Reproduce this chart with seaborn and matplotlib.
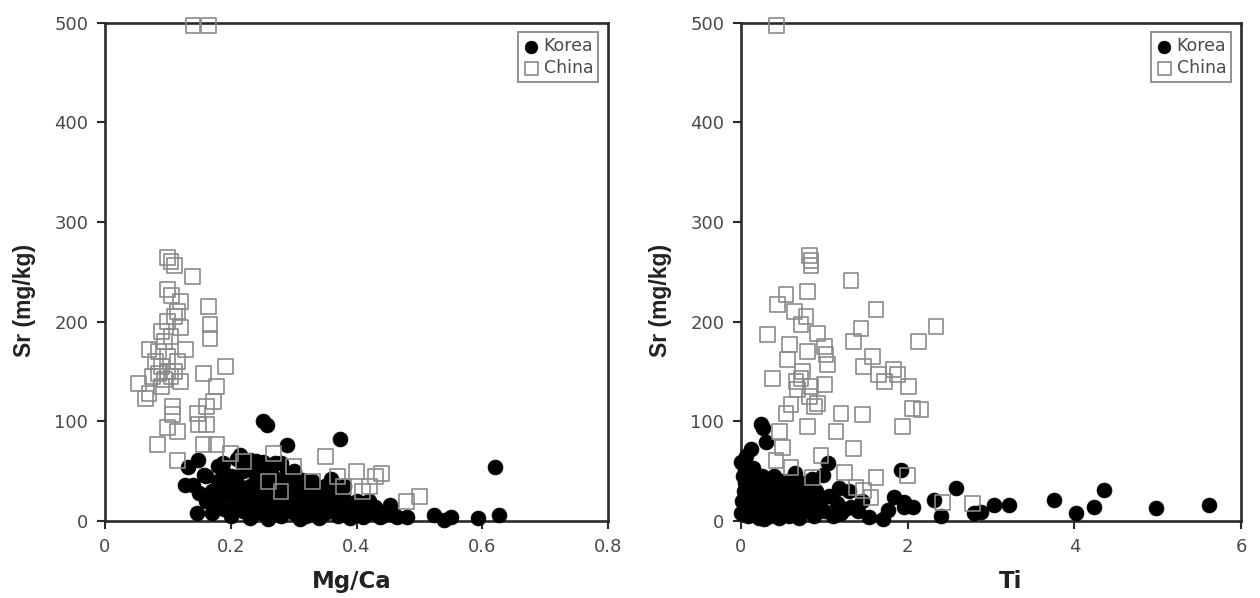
import matplotlib
matplotlib.use("Agg")
import matplotlib.pyplot as plt
import seaborn as sns
import pandas as pd

# ---------------- data ----------------
# Left panel: Mg/Ca vs Sr
korea_mgca_sr = [
    (0.252, 100), (0.258, 96), (0.374, 82), (0.290, 76), (0.620, 54), (0.626, 6),
    (0.594, 3), (0.550, 4), (0.539, 1), (0.523, 6), (0.481, 4), (0.465, 4),
    (0.454, 16), (0.438, 4), (0.414, 18), (0.132, 54), (0.148, 61), (0.215, 66),
    (0.188, 58), (0.231, 61), (0.252, 59), (0.127, 36), (0.140, 36), (0.157, 46),
    (0.146, 8), (0.172, 16), (0.204, 41), (0.290, 48), (0.310, 41), (0.314, 41),
    (0.266, 46), (0.17, 30), (0.18, 22), (0.18, 40), (0.19, 12), (0.19, 32),
    (0.20, 25), (0.20, 5), (0.21, 18), (0.21, 38), (0.22, 10), (0.22, 28),
    (0.22, 50), (0.23, 20), (0.23, 35), (0.23, 3), (0.24, 15), (0.24, 28),
    (0.24, 44), (0.25, 8), (0.25, 22), (0.25, 35), (0.25, 55), (0.26, 14),
    (0.26, 30), (0.26, 2), (0.27, 20), (0.27, 40), (0.27, 10), (0.28, 25),
    (0.28, 5), (0.28, 35), (0.28, 58), (0.29, 15), (0.29, 28), (0.30, 8),
    (0.30, 20), (0.30, 38), (0.30, 50), (0.31, 12), (0.31, 26), (0.32, 5),
    (0.32, 18), (0.32, 32), (0.33, 10), (0.33, 24), (0.33, 40), (0.34, 15),
    (0.34, 3), (0.34, 28), (0.35, 8), (0.35, 20), (0.35, 35), (0.36, 12),
    (0.36, 25), (0.37, 5), (0.37, 18), (0.37, 30), (0.38, 10), (0.38, 22),
    (0.39, 15), (0.39, 3), (0.40, 8), (0.40, 20), (0.41, 12), (0.41, 4),
    (0.42, 8), (0.43, 14), (0.44, 5), (0.45, 10), (0.46, 6), (0.20, 45),
    (0.18, 55), (0.16, 20), (0.17, 8), (0.24, 60), (0.26, 48), (0.21, 62),
    (0.27, 58), (0.23, 52), (0.19, 48), (0.30, 45), (0.33, 33), (0.36, 42),
    (0.15, 28), (0.16, 45), (0.42, 20), (0.38, 35), (0.29, 40), (0.31, 2),
]
china_mgca_sr = [
    (0.140, 497), (0.165, 497), (0.099, 264), (0.105, 260), (0.110, 256),
    (0.139, 245), (0.100, 232), (0.106, 226), (0.120, 220), (0.164, 215),
    (0.115, 210), (0.110, 205), (0.167, 197), (0.100, 200), (0.120, 194),
    (0.167, 183), (0.090, 190), (0.095, 180), (0.128, 172), (0.085, 170),
    (0.070, 172), (0.080, 160), (0.100, 165), (0.090, 155), (0.191, 155),
    (0.156, 148), (0.110, 150), (0.053, 138), (0.075, 145), (0.105, 145),
    (0.120, 140), (0.090, 135), (0.178, 135), (0.064, 123), (0.070, 128),
    (0.172, 120), (0.107, 115), (0.147, 108), (0.162, 115), (0.108, 107),
    (0.099, 94), (0.115, 90), (0.083, 77), (0.148, 97), (0.162, 97),
    (0.116, 61), (0.156, 77), (0.178, 77), (0.268, 68), (0.200, 68),
    (0.220, 60), (0.350, 65), (0.300, 55), (0.330, 40), (0.370, 45),
    (0.380, 35), (0.400, 50), (0.420, 35), (0.430, 45), (0.440, 48),
    (0.410, 30), (0.480, 20), (0.500, 25), (0.260, 40), (0.280, 30),
    (0.100, 150), (0.095, 142), (0.115, 160), (0.105, 185), (0.085, 148),
]

# Right panel: Ti vs Sr
korea_ti_sr = [
    (0.24, 97), (0.26, 93), (0.30, 79), (0.12, 72), (0.00, 59), (0.14, 53),
    (1.04, 58), (0.98, 46), (1.92, 51), (1.18, 33), (1.83, 24), (1.96, 19),
    (2.06, 14), (1.32, 14), (1.76, 11), (1.53, 4), (1.70, 2), (1.96, 14),
    (2.31, 21), (2.40, 5), (2.58, 33), (2.80, 8), (2.88, 9), (3.03, 16),
    (3.21, 16), (3.75, 21), (4.02, 8), (4.23, 14), (4.36, 31), (4.98, 13),
    (5.61, 16), (0.02, 45), (0.03, 30), (0.05, 15), (0.05, 38), (0.08, 5),
    (0.08, 25), (0.10, 50), (0.10, 12), (0.12, 35), (0.15, 20), (0.15, 42),
    (0.18, 8), (0.18, 28), (0.20, 15), (0.20, 38), (0.22, 3), (0.25, 22),
    (0.25, 45), (0.28, 10), (0.30, 30), (0.32, 18), (0.35, 5), (0.35, 38),
    (0.38, 25), (0.40, 12), (0.42, 32), (0.45, 3), (0.45, 20), (0.48, 40),
    (0.50, 10), (0.52, 28), (0.55, 18), (0.58, 5), (0.60, 35), (0.62, 22),
    (0.65, 12), (0.68, 30), (0.70, 3), (0.72, 20), (0.75, 38), (0.78, 10),
    (0.80, 25), (0.85, 15), (0.88, 5), (0.90, 30), (0.95, 20), (1.00, 10),
    (1.05, 25), (1.10, 5), (1.15, 18), (1.20, 8), (1.25, 12), (1.40, 10),
    (1.45, 20), (0.01, 20), (0.00, 8), (0.03, 55), (0.06, 65), (0.13, 28),
    (0.27, 2), (0.55, 40), (0.85, 42), (1.30, 30), (0.40, 45), (0.65, 48),
]
china_ti_sr = [
    (0.43, 497), (0.84, 261), (0.84, 256), (0.82, 266), (1.32, 241), (0.80, 230),
    (0.54, 227), (0.44, 217), (0.64, 210), (0.78, 205), (0.72, 197), (1.62, 212),
    (0.32, 187), (1.44, 193), (2.13, 180), (2.34, 195), (0.92, 188), (1.00, 175),
    (1.02, 167), (1.35, 180), (0.58, 177), (0.80, 170), (0.56, 162), (1.04, 157),
    (1.58, 165), (1.47, 155), (1.65, 147), (1.72, 140), (1.83, 152), (1.88, 147),
    (2.01, 135), (0.38, 143), (0.72, 143), (0.84, 135), (0.68, 132), (1.00, 137),
    (0.82, 125), (0.60, 117), (0.54, 108), (0.92, 118), (1.20, 108), (1.46, 107),
    (2.06, 113), (2.16, 112), (0.80, 95), (1.14, 90), (0.46, 90), (1.94, 95),
    (1.35, 73), (0.50, 74), (0.42, 61), (0.96, 66), (0.60, 54), (1.24, 49),
    (0.86, 44), (1.62, 44), (2.00, 46), (1.47, 31), (1.38, 34), (1.56, 24),
    (2.42, 19), (2.78, 18), (0.74, 150), (0.66, 140), (0.88, 115),
]

mgca_ticks = [0, 0.2, 0.4, 0.6, 0.8]
ti_ticks = [0, 2, 4, 6]
sr_ticks = [0, 100, 200, 300, 400, 500]

# ---------------- plotting ----------------
sns.set_style("ticks")
plt.rcParams["font.family"] = ["DejaVu Sans"]

TICK_C = "#4a4a4a"
SPINE_C = "#2a2a2a"
SQ_C = "#8a8a8a"

fig = plt.figure(figsize=(12.6, 5.98), dpi=100)
ax1 = fig.add_axes([105 / 1260, 1 - 521 / 598, 503 / 1260, 498.5 / 598])
ax2 = fig.add_axes([741 / 1260, 1 - 521 / 598, 500 / 1260, 498.5 / 598])

panels = [
    (ax1, korea_mgca_sr, china_mgca_sr, "Mg/Ca", (0, 0.8), mgca_ticks,
     ["0", "0.2", "0.4", "0.6", "0.8"], 0.49),
    (ax2, korea_ti_sr, china_ti_sr, "Ti", (0, 6), ti_ticks,
     ["0", "2", "4", "6"], 0.54),
]

for ax, kor, chi, xlabel, xlim, xticks, xticklabels, xlab_x in panels:
    dk = pd.DataFrame(kor, columns=["x", "Sr"])
    dc = pd.DataFrame(chi, columns=["x", "Sr"])
    sns.scatterplot(data=dk, x="x", y="Sr", ax=ax, marker="o", s=115,
                    color="black", edgecolor="black", linewidth=0.5,
                    label="Korea", zorder=3, clip_on=False)
    sns.scatterplot(data=dc, x="x", y="Sr", ax=ax, marker="s", s=115,
                    facecolor="none", edgecolor=SQ_C, linewidth=1.2,
                    label="China", zorder=4, clip_on=False)
    ax.set_xlim(*xlim)
    ax.set_ylim(0, 500)
    ax.set_xticks(xticks)
    ax.set_xticklabels(xticklabels)
    ax.set_yticks(sr_ticks)
    for sp in ax.spines.values():
        sp.set_visible(True)
        sp.set_color(SPINE_C)
        sp.set_linewidth(1.9)
    ax.tick_params(direction="out", length=6, width=1.5, color=SPINE_C,
                   labelsize=13, labelcolor=TICK_C, pad=6)
    ax.set_xlabel(xlabel, fontsize=16.5, fontweight="bold", color="#222222")
    ax.xaxis.set_label_coords(xlab_x, -0.098)
    ax.set_ylabel("Sr (mg/kg)", fontsize=16.5, fontweight="bold",
                  color="#222222", family="Liberation Sans")
    ax.yaxis.set_label_coords(-0.138, 0.443)
    leg = ax.legend(loc="upper right", frameon=True, fancybox=False,
                    edgecolor="#888888", framealpha=1, fontsize=12.5,
                    borderpad=0.3, labelspacing=0.2, handletextpad=0.2,
                    handlelength=1.0, borderaxespad=0.55, markerscale=0.85)
    leg.get_frame().set_linewidth(1.3)
    for t in leg.get_texts():
        t.set_color(TICK_C)

fig.savefig("out.png", dpi=100)
